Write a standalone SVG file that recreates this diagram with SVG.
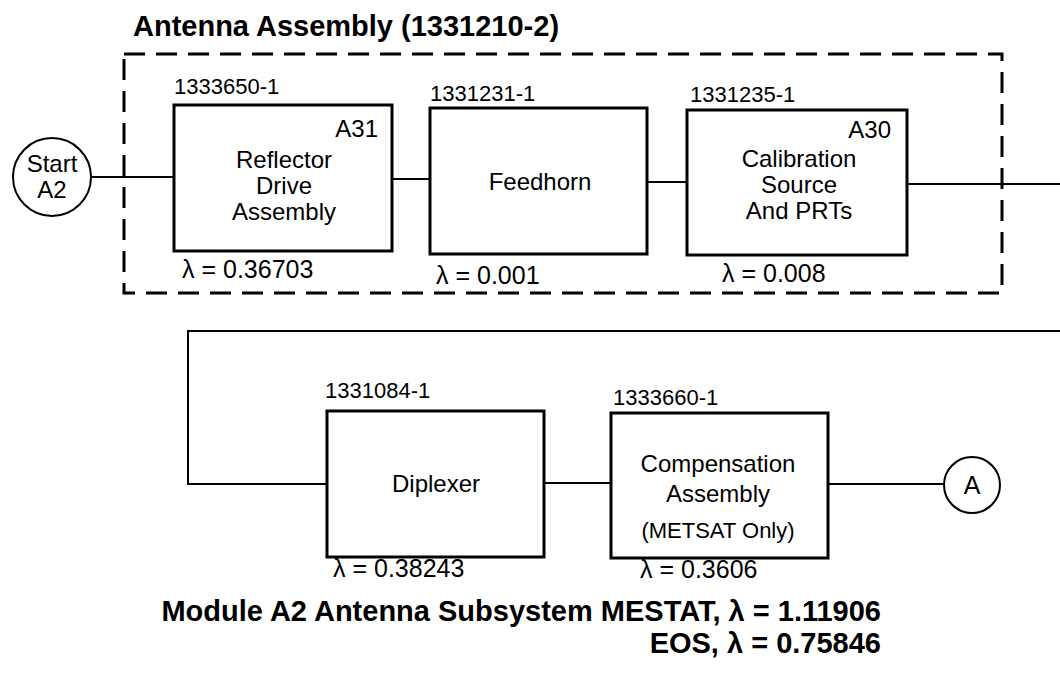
<svg xmlns="http://www.w3.org/2000/svg" width="1060" height="682" viewBox="0 0 1060 682">
<style>
  text { font-family: "Liberation Sans", Arial, Helvetica, sans-serif; fill: #000; }
  .box { fill: #fff; stroke: #000; stroke-width: 3; }
  .conn { fill: none; stroke: #000; stroke-width: 2; }
  .dash { fill: none; stroke: #000; stroke-width: 3; stroke-dasharray: 21 11; }
  .term { fill: #fff; stroke: #000; stroke-width: 2; }
  .pn { font-size: 22px; }
  .body { font-size: 24px; text-anchor: middle; }
  .ref { font-size: 24px; text-anchor: end; }
  .lam { font-size: 25px; }
  .small { font-size: 22px; text-anchor: middle; }
  .title { font-size: 29px; font-weight: bold; }
</style>
<rect width="1060" height="682" fill="#fff"/>

<g id="antenna-assembly">
  <rect class="dash" x="124" y="54" width="878" height="239"/>
  <text class="title" x="133" y="36">Antenna Assembly (1331210-2)</text>
</g>

<g id="connectors">
  <line class="conn" x1="91" y1="177" x2="174" y2="177"/>
  <line class="conn" x1="392" y1="179" x2="430" y2="179"/>
  <line class="conn" x1="647" y1="182" x2="687" y2="182"/>
  <line class="conn" x1="907" y1="184" x2="1060" y2="184"/>
  <polyline class="conn" points="1060,331 188,331 188,484 327,484"/>
  <line class="conn" x1="544" y1="483" x2="611" y2="483"/>
  <line class="conn" x1="828" y1="484" x2="944" y2="484"/>
</g>

<g id="start">
  <circle class="term" cx="52" cy="177" r="39"/>
  <text class="body" x="52" y="172">Start</text>
  <text class="body" x="52" y="198">A2</text>
</g>

<g id="reflector">
  <text class="pn" x="174" y="94">1333650-1</text>
  <rect class="box" x="174" y="105" width="218" height="146"/>
  <text class="ref" x="378" y="137">A31</text>
  <text class="body" x="284" y="168">Reflector</text>
  <text class="body" x="284" y="194">Drive</text>
  <text class="body" x="284" y="220">Assembly</text>
  <text class="lam" x="182" y="278">λ = 0.36703</text>
</g>

<g id="feedhorn">
  <text class="pn" x="430" y="101">1331231-1</text>
  <rect class="box" x="430" y="108" width="217" height="146"/>
  <text class="body" x="540" y="190">Feedhorn</text>
  <text class="lam" x="436" y="284">λ = 0.001</text>
</g>

<g id="calibration">
  <text class="pn" x="690" y="102">1331235-1</text>
  <rect class="box" x="687" y="110" width="220" height="145"/>
  <text class="ref" x="891" y="138">A30</text>
  <text class="body" x="799" y="167">Calibration</text>
  <text class="body" x="799" y="193">Source</text>
  <text class="body" x="799" y="219">And PRTs</text>
  <text class="lam" x="722" y="282">λ = 0.008</text>
</g>

<g id="diplexer">
  <text class="pn" x="325" y="398">1331084-1</text>
  <rect class="box" x="327" y="411" width="217" height="146"/>
  <text class="body" x="436" y="492">Diplexer</text>
  <text class="lam" x="333" y="577">λ = 0.38243</text>
</g>

<g id="compensation">
  <text class="pn" x="613" y="405">1333660-1</text>
  <rect class="box" x="611" y="413" width="217" height="145"/>
  <text class="body" x="718" y="472">Compensation</text>
  <text class="body" x="718" y="502">Assembly</text>
  <text class="small" x="718" y="538">(METSAT Only)</text>
  <text class="lam" x="640" y="578">λ = 0.3606</text>
</g>

<g id="connector-a">
  <circle class="term" cx="972" cy="485" r="28"/>
  <text class="body" x="972" y="494" style="font-size:25px">A</text>
</g>

<g id="caption">
  <text class="title" x="881" y="621" text-anchor="end">Module A2 Antenna Subsystem MESTAT, λ = 1.11906</text>
  <text class="title" x="881" y="653" text-anchor="end">EOS, λ = 0.75846</text>
</g>
</svg>
